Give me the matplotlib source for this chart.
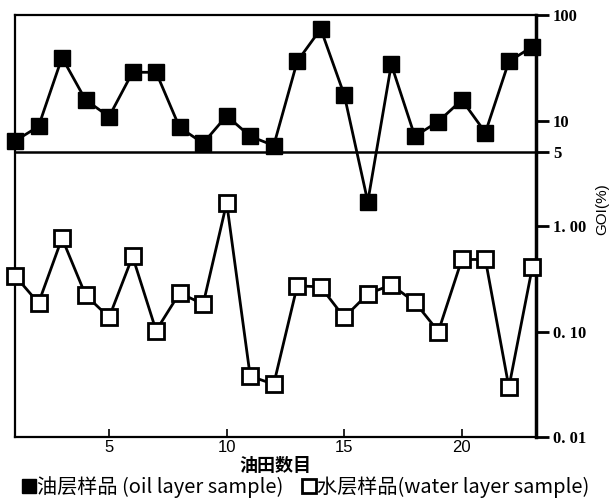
import numpy as np
import matplotlib.pyplot as plt
from matplotlib.lines import Line2D

# field number
fields = np.arange(1, 24)

# GOI (%) for oil layer samples
oil_goi = [6.4, 8.8, 39.6, 15.7, 10.9, 28.7, 28.7, 8.6, 6.1, 11.1, 7.1, 5.8,
           36.4, 74, 17.5, 1.7, 34.1, 7.1, 9.8, 15.7, 7.7, 36.4, 50.2]

# GOI (%) for water layer samples
water_goi = [0.338, 0.186, 0.767, 0.222, 0.136, 0.515, 0.102, 0.232, 0.182, 1.66,
             0.0378, 0.0316, 0.271, 0.265, 0.136, 0.227, 0.277, 0.190, 0.100,
             0.482, 0.482, 0.0296, 0.412]

yticks = [100, 10, 5, 1.0, 0.1, 0.01]
ytick_labels = ['100', '10', '5', '1. 00', '0. 10', '0. 01']
xticks = [5, 10, 15, 20]

cjk = ['Noto Sans CJK SC', 'DejaVu Sans']

fig = plt.figure(figsize=(6.12, 5.04), dpi=100, facecolor='w')
ax = fig.add_axes([0.0245, 0.133, 0.852, 0.837])

ax.plot(fields, oil_goi, color='k', lw=2, marker='s', ms=11,
        mfc='k', mec='k', zorder=3, clip_on=False)
ax.plot(fields, water_goi, color='k', lw=2, marker='s', ms=11,
        mfc='w', mec='k', mew=2, zorder=3, clip_on=False)

# dividing line at 5 %
ax.axhline(5, color='k', lw=1.8, zorder=2)

ax.set_yscale('log')
ax.set_ylim(0.01, 100)
ax.set_xlim(1, 23.17)

ax.yaxis.tick_right()
ax.set_yticks(yticks)
ax.set_yticklabels(ytick_labels, family='Liberation Serif', fontsize=12,
                   fontweight='bold')
ax.yaxis.set_minor_locator(plt.NullLocator())
ax.tick_params(axis='y', direction='out', length=9, width=2, pad=3)

ax.set_xticks(xticks)
ax.set_xticklabels([str(v) for v in xticks], family='Liberation Sans', fontsize=12)
ax.tick_params(axis='x', direction='in', length=6, width=1.2, pad=2)

for side in ['left', 'top', 'bottom']:
    ax.spines[side].set_linewidth(1.6)
ax.spines['right'].set_linewidth(2.5)

ax.yaxis.set_label_position('right')
ax.set_ylabel('GOI(%)', family='Liberation Sans', fontsize=11)
ax.yaxis.set_label_coords(1.112, 0.54)

ax.set_xlabel('油田数目', family=cjk, fontsize=13, fontweight='bold', labelpad=1)

handles = [
    Line2D([], [], ls='none', marker='s', ms=10, mfc='k', mec='k'),
    Line2D([], [], ls='none', marker='s', ms=10, mfc='w', mec='k', mew=2),
]
labels = ['油层样品 (oil layer sample)', '水层样品(water layer sample)']
fig.legend(handles, labels, loc='lower center', bbox_to_anchor=(0.5, -0.025),
           ncol=2, frameon=False, handlelength=0.6, handletextpad=0.1,
           columnspacing=1.0, prop={'family': cjk, 'size': 14.5})

plt.savefig('out.png', dpi=100)
